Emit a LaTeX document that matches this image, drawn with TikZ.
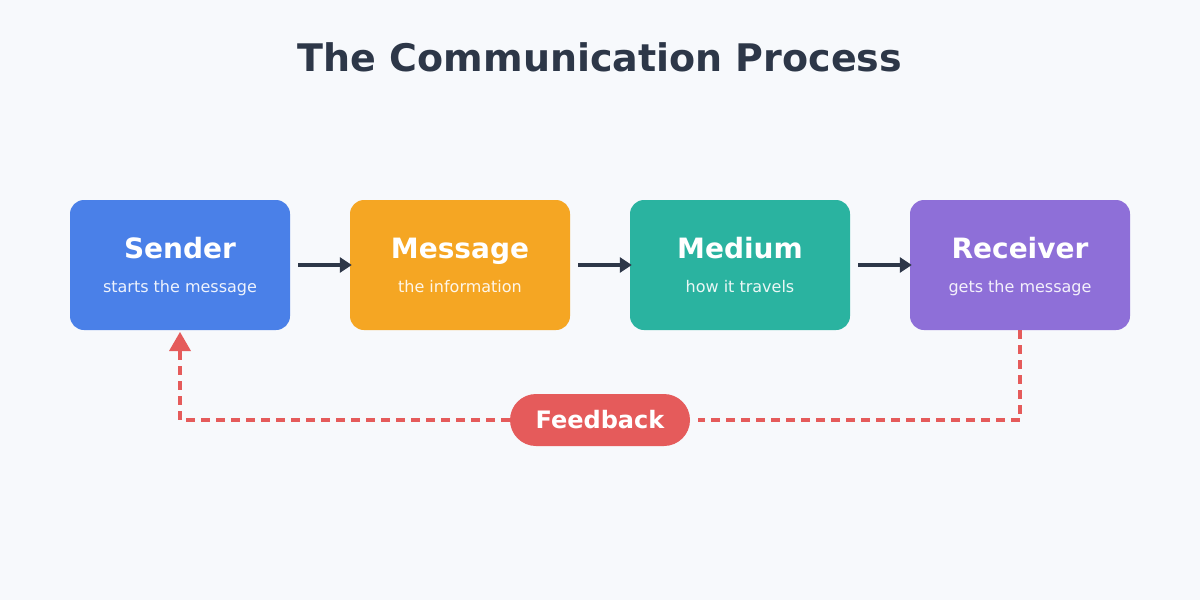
\documentclass[tikz,border=0pt]{standalone}
\usepackage{fontspec}
\setmainfont{DejaVu Sans}
\usetikzlibrary{arrows.meta}
\definecolor{bg}{HTML}{F7F9FC}
\definecolor{cblue}{HTML}{4A80E8}
\definecolor{corange}{HTML}{F5A623}
\definecolor{cteal}{HTML}{2AB3A0}
\definecolor{cpurple}{HTML}{8E6FD8}
\definecolor{cdark}{HTML}{2D3748}
\definecolor{cred}{HTML}{E55B5B}
\begin{document}
\begin{tikzpicture}[x=1pt,y=-1pt,
  box/.style={rounded corners=14pt,minimum width=220pt,minimum height=130pt,inner sep=0pt,draw=none},
  ttl/.style={text=white,anchor=base,inner sep=0pt,font=\fontsize{28}{32}\selectfont\bfseries},
  sub/.style={text=white,opacity=0.9,anchor=base,inner sep=0pt,font=\fontsize{16}{19}\selectfont},
  flow/.style={draw=cdark,line width=4pt,-{Triangle[width=15pt,length=12pt]},shorten <=8pt,shorten >=-2pt},
  fb/.style={draw=cred,line width=4pt,dash pattern=on 9pt off 6pt}]
\fill[bg] (0,0) rectangle (1200,600);
\useasboundingbox (0,0) rectangle (1200,600);
\node[text=cdark,anchor=base,inner sep=0pt,font=\fontsize{38}{44}\selectfont\bfseries] (title) at (600,71) {The Communication Process};
\node[box,fill=cblue] (snd) at (180,265) {};
\node[box,fill=corange] (msg) at (460,265) {};
\node[box,fill=cteal] (med) at (740,265) {};
\node[box,fill=cpurple] (rec) at (1020,265) {};
\foreach \n/\t/\s in {snd/Sender/starts the message,msg/Message/the information,med/Medium/how it travels,rec/Receiver/gets the message}{
  \node[ttl] (\n t) at ([yshift=7pt]\n.center) {\t};
  \node[sub] (\n s) at ([yshift=-27pt]\n.center) {\s};
}
\draw[flow] (snd.east) -- (msg.west);
\draw[flow] (msg.east) -- (med.west);
\draw[flow] (med.east) -- (rec.west);
\node[fill=cred,rounded corners=26pt,minimum width=180pt,minimum height=52pt,text=white,font=\fontsize{24}{28}\selectfont\bfseries] (fbk) at (600,420) {Feedback};
\draw[fb,shorten >=8pt] (rec.south) |- (fbk.east);
\draw[fb] (fbk.west) -| (snd.south);
\fill[cred] (180,332) -- (191,351) -- (169,351) -- cycle;
\end{tikzpicture}
\end{document}
